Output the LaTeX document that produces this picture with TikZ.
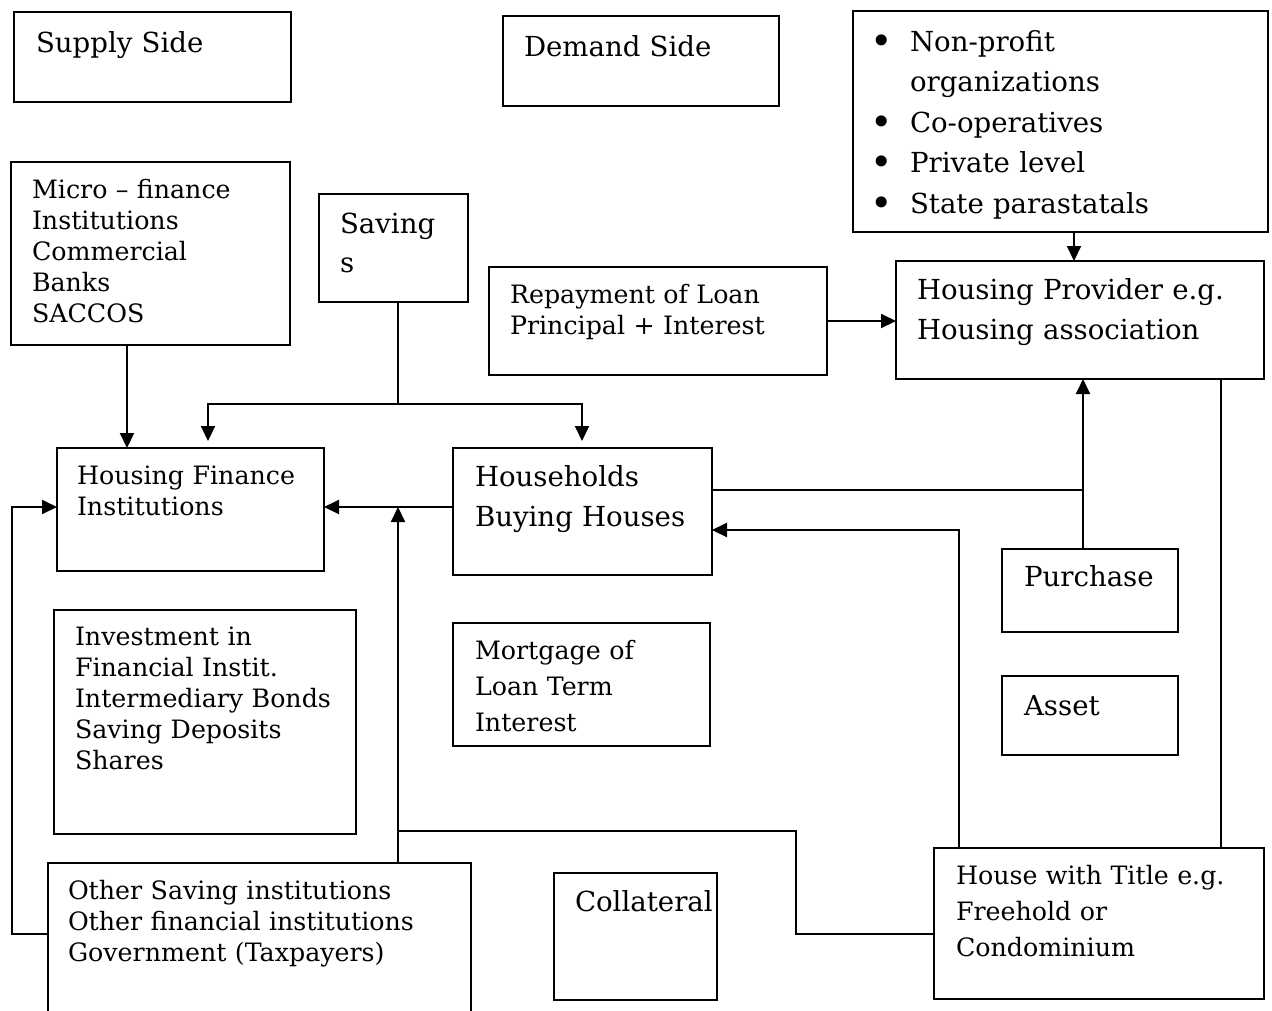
\documentclass[tikz,border=0pt]{standalone}
\usepackage{fontspec}
\setmainfont{DejaVu Serif}
\usetikzlibrary{arrows.meta,calc}
\newcommand{\smallf}{\fontsize{25.3}{31}\selectfont}
\newcommand{\midf}{\fontsize{25.3}{36}\selectfont}
\newcommand{\largef}{\fontsize{27.6}{40.5}\selectfont}
\newcommand{\blt}{\makebox[38pt][l]{\hspace*{-2pt}\raisebox{-3pt}{\fontsize{38}{38}\selectfont •}}}
\tikzset{
  boxst/.style={draw, line width=2pt, anchor=north west, inner sep=0pt, outer sep=0pt},
  txt/.style={anchor=base west, inner sep=0pt, outer sep=0pt, align=left},
  arr/.style={line width=2pt, -{Triangle[length=15pt,width=14pt]}},
  ln/.style={line width=1.6pt},
}
\begin{document}
\begin{tikzpicture}[x=1pt,y=-1pt]
\clip (0,0) rectangle (1272,1010);
\fill[white] (0,0) rectangle (1272,1010);

% boxes
\node[boxst, minimum width=277pt, minimum height=90pt] (sup) at (14,12) {};
\node[boxst, minimum width=276pt, minimum height=90pt] (dem) at (503,16) {};
\node[boxst, minimum width=415pt, minimum height=221pt] (org) at (853,11) {};
\node[boxst, minimum width=279pt, minimum height=183pt] (mic) at (11,162) {};
\node[boxst, minimum width=149pt, minimum height=108pt] (sav) at (319,194) {};
\node[boxst, minimum width=338pt, minimum height=108pt] (rep) at (489,267) {};
\node[boxst, minimum width=368pt, minimum height=118pt] (hp) at (896,261) {};
\node[boxst, minimum width=267pt, minimum height=123pt] (hfi) at (57,448) {};
\node[boxst, minimum width=259pt, minimum height=127pt] (hh) at (453,448) {};
\node[boxst, minimum width=176pt, minimum height=83pt] (pur) at (1002,549) {};
\node[boxst, minimum width=176pt, minimum height=79pt] (ast) at (1002,676) {};
\node[boxst, minimum width=302pt, minimum height=224pt] (inv) at (54,610) {};
\node[boxst, minimum width=257pt, minimum height=123pt] (mor) at (453,623) {};
\node[boxst, minimum width=423pt, minimum height=180pt] (oth) at (48,863) {};
\node[boxst, minimum width=163pt, minimum height=127pt] (col) at (554,873) {};
\node[boxst, minimum width=330pt, minimum height=151pt] (hw) at (934,848) {};

% texts
\node[txt, text width=250pt, font=\largef] (sup-t) at (36,52) {Supply Side};
\node[txt, text width=250pt, font=\largef] (dem-t) at (524,56) {Demand Side};
\node[txt, text width=390pt, font=\largef] (org-t) at (872,51)
  {\blt Non-profit\\\hspace*{38pt}organizations\\
   \blt Co-operatives\\\blt Private level\\
   \blt State parastatals};
\node[txt, text width=260pt, font=\smallf] (mic-t) at (32,198)
  {Micro – finance\\Institutions\\Commercial\\Banks\\SACCOS};
\node[txt, text width=130pt, font=\largef] (sav-t) at (340,233) {Saving\\[-1.5pt]s};
\node[txt, text width=320pt, font=\smallf] (rep-t) at (510,303) {Repayment of Loan\\Principal + Interest};
\node[txt, text width=345pt, font=\largef] (hp-t) at (917,299) {Housing Provider e.g.\\Housing association};
\node[txt, text width=250pt, font=\smallf] (hfi-t) at (77,484) {Housing Finance\\Institutions};
\node[txt, text width=240pt, font=\largef] (hh-t) at (475,486) {Households\\Buying Houses};
\node[txt, text width=160pt, font=\largef] (pur-t) at (1024,586) {Purchase};
\node[txt, text width=160pt, font=\largef] (ast-t) at (1024,715) {Asset};
\node[txt, text width=285pt, font=\smallf] (inv-t) at (75,645)
  {Investment in\\Financial Instit.\\Intermediary Bonds\\Saving Deposits\\Shares};
\node[txt, text width=240pt, font=\midf] (mor-t) at (475,659) {Mortgage of\\Loan Term\\Interest};
\node[txt, text width=400pt, font=\smallf] (oth-t) at (68,899)
  {Other Saving institutions\\Other financial institutions\\Government (Taxpayers)};
\node[txt, text width=150pt, font=\largef] (col-t) at (575,911) {Collateral};
\node[txt, text width=310pt, font=\midf] (hw-t) at (956,884) {House with Title e.g.\\Freehold or\\Condominium};

% helper coordinates
\coordinate (x127) at (127,0);
\coordinate (jm) at (398,404);
\coordinate (t1) at (208,441);
\coordinate (t2) at (582,441);
\coordinate (ya) at (0,507);
\coordinate (x12) at (12,0);
\coordinate (y934) at (0,934);
\coordinate (y490) at (0,490);
\coordinate (x1083) at (1083,0);
\coordinate (x1074) at (1074,0);
\coordinate (x1221) at (1221,0);
\coordinate (x959) at (959,0);
\coordinate (y530) at (0,530);
\coordinate (x796) at (796,0);
\coordinate (y831) at (0,831);

% connectors
\draw[arr] (mic.south -| x127) -- (hfi.north -| x127);
\draw[ln] (sav.south -| jm) -- (jm);
\draw[arr] (jm) -| (t1);
\draw[arr] (jm) -| (t2);
\draw[arr] (hh.west |- ya) -- (hfi.east |- ya);
\draw[arr] (oth.north -| jm) -- (jm |- ya);
\draw[arr] (oth.west |- y934) -| (x12 |- ya) -- (hfi.west |- ya);
\draw[ln] (hh.east |- y490) -- (x1083 |- y490);
\draw[arr] (pur.north -| x1083) -- (hp.south -| x1083);
\draw[arr] (rep.east) -- (rep.east -| hp.west);
\draw[arr] (org.south -| x1074) -- (hp.north -| x1074);
\draw[ln] (hp.south -| x1221) -- (hw.north -| x1221);
\draw[arr] (hw.north -| x959) |- (hh.east |- y530);
\draw[ln] (hw.west |- y934) -| (x796 |- y831) -- (jm |- y831);
\end{tikzpicture}
\end{document}
